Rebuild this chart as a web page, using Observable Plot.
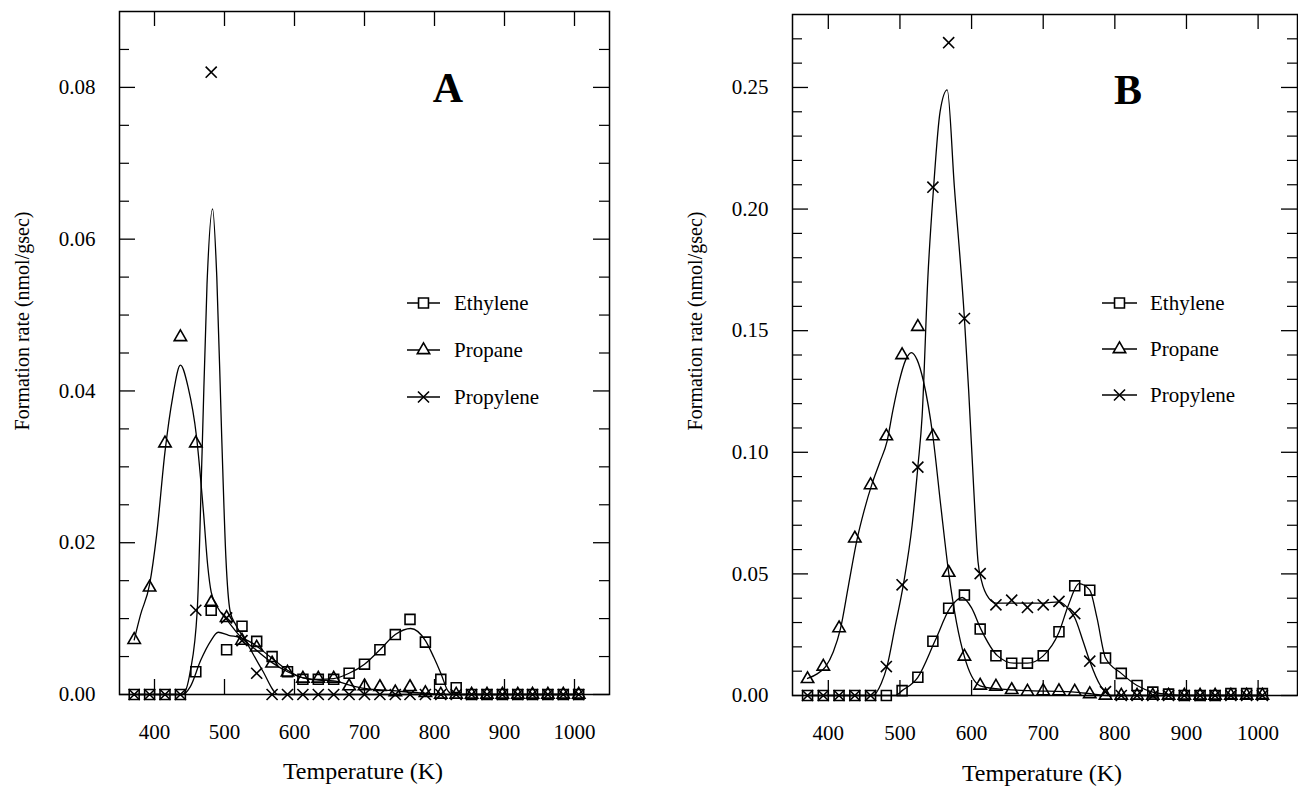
<!DOCTYPE html>
<html><head><meta charset="utf-8">
<script src="https://cdn.jsdelivr.net/npm/d3@7"></script>
<script src="https://cdn.jsdelivr.net/npm/@observablehq/plot@0.6"></script>
<style>
body{margin:0;background:#fff;overflow:hidden;}
#wrap{position:relative;width:1298px;height:786px;background:#fff;}
#wrap svg{position:absolute;top:0;}
</style></head><body><div id="wrap"></div>
<script>
// ---- data ----
const temperatures = [371,393,415,437,459,481,503,525,546,568,590,612,634,656,678,700,722,744,765,787,809,831,853,875,897,919,940,962,984,1006];
const seriesNames = ["Ethylene","Propane","Propylene"];
const xTicks = [400,500,600,700,800,900,1000];

// Panel A measured points
const A_ethylene  = [0,0,0,0,0.0030,0.0111,0.0059,0.0090,0.0070,0.0050,0.0030,0.0020,0.0020,0.0020,0.0028,0.0040,0.0059,0.0079,0.0099,0.0069,0.0020,0.0009,0,0,0,0,0,0,0,0];
const A_propane   = [0.0072,0.0141,0.0331,0.0471,0.0331,0.0121,0.0101,0.0071,0.0062,0.0041,0.0029,0.0021,0.0021,0.0021,0.0011,0.0011,0.0010,0.0003,0.0010,0.0002,0,0,0,0,0,0,0,0,0,0];
const A_propylene = [0,0,0,0,0.0111,0.0820,0.0101,0.0071,0.0028,0,0,0,0,0,0,0,0,0,0,0,0,0,0,0,0,0,0,0,0,0];

// Panel B measured points
const B_ethylene  = [0,0,0,0,0,0,0.0020,0.0075,0.0223,0.0359,0.0413,0.0273,0.0163,0.0133,0.0133,0.0163,0.0262,0.0451,0.0433,0.0154,0.0091,0.0041,0.0014,0.0006,0,0,0,0.0008,0.0008,0.0008];
const B_propane   = [0.0068,0.0119,0.0277,0.0646,0.0865,0.1066,0.1400,0.1516,0.1066,0.0505,0.0160,0.0041,0.0037,0.0023,0.0016,0.0018,0.0018,0.0016,0.0006,0,0,0,0,0,0,0,0,0,0,0];
const B_propylene = [0,0,0,0,0,0.0119,0.0455,0.0939,0.2090,0.2684,0.1550,0.0501,0.0373,0.0392,0.0362,0.0373,0.0387,0.0337,0.0141,0.0016,0,0,0,0,0,0,0,0,0,0];

// Fitted curves: [T, value]
const fitA_ethylene = [[371,0],[440,0],[451,0.001],[466,0.0045],[480,0.007],[491,0.0082],[506,0.0078],[523,0.0075],[541,0.0067],[566,0.0049],[590,0.0032],[613,0.0022],[635,0.002],[656,0.0021],[678,0.0028],[700,0.004],[722,0.0059],[744,0.0079],[766,0.0087],[787,0.0071],[799,0.0049],[809,0.0028],[819,0.0005],[826,0],[1006,0]];
const fitA_propane = [[371,0.0072],[380,0.0105],[393,0.0145],[403,0.021],[415,0.032],[426,0.0392],[437,0.0434],[448,0.0405],[460,0.034],[470,0.024],[476,0.017],[481,0.0135],[490,0.0115],[503,0.0099],[525,0.0074],[546,0.0058],[568,0.0042],[590,0.003],[612,0.0022],[634,0.0019],[656,0.0018],[680,0.0012],[700,0.0008],[740,0.0005],[780,0.0002],[820,0],[1006,0]];
const fitA_propylene = [[371,0],[440,0],[451,0.003],[461,0.011],[468,0.032],[475,0.054],[483,0.064],[489,0.055],[496,0.034],[502,0.018],[508,0.011],[516,0.0092],[530,0.0071],[554,0.0032],[577,0],[1006,0]];

const fitB_ethylene = [[371,0],[494,0],[503,0.002],[525,0.0075],[549,0.0225],[570,0.036],[587,0.0403],[600,0.036],[613,0.0273],[636,0.0164],[659,0.0133],[678,0.0133],[700,0.0163],[722,0.026],[735,0.037],[750,0.046],[765,0.0433],[775,0.032],[787,0.0154],[809,0.0091],[831,0.0041],[853,0.0014],[875,0.0005],[900,0],[1006,0]];
const fitB_propane = [[371,0.007],[385,0.009],[396,0.0118],[407,0.018],[417,0.0275],[428,0.045],[440,0.064],[450,0.076],[461,0.087],[472,0.096],[482,0.1045],[490,0.117],[498,0.128],[508,0.138],[516,0.141],[524,0.138],[533,0.129],[546,0.1066],[557,0.078],[568,0.0505],[579,0.03],[590,0.016],[600,0.008],[612,0.004],[634,0.0028],[680,0.002],[740,0.0015],[770,0.0006],[790,0],[1006,0]];
const fitB_propylene = [[371,0],[462,0],[474,0.005],[482,0.012],[493,0.028],[505,0.046],[517,0.07],[525,0.094],[531,0.115],[539,0.172],[547,0.209],[556,0.24],[566,0.249],[576,0.209],[590,0.155],[596,0.125],[603,0.085],[609,0.055],[614,0.047],[624,0.040],[634,0.038],[656,0.038],[700,0.038],[722,0.0385],[737,0.035],[744,0.032],[756,0.022],[765,0.0141],[780,0.004],[795,0],[1006,0]];

const A_yLabels = [0,0.02,0.04,0.06,0.08];
const B_yLabels = [0,0.05,0.10,0.15,0.20,0.25];

// ---- drawing ----
const FONT = "'Liberation Serif','Times New Roman',serif";
const symbolOf = {Ethylene: "square", Propane: "triangle", Propylene: "times"};
const rOf = {Ethylene: 5.6, Propane: 4.6, Propylene: 5.1};
const d3SymbolOf = {Ethylene: d3.symbolSquare, Propane: d3.symbolTriangle, Propylene: d3.symbolTimes};

function panel(cfg) {
  const {left, width, mL, mR, mT, mB, yMax, minorTicks, majorTicks, yLabels, pts, fits} = cfg;
  const height = 786;
  const fw = width - mL - mR, fh = height - mT - mB;
  const rows = [];
  seriesNames.forEach((s, k) => temperatures.forEach((t, i) => rows.push({series: s, T: t, v: pts[k][i]})));
  const fitRows = [];
  seriesNames.forEach((s, k) => fits[k].forEach(([t, v]) => fitRows.push({series: s, T: t, v})));
  const minorOnly = minorTicks.filter(v => !majorTicks.includes(v));
  const plot = Plot.plot({
    width, height, marginLeft: mL, marginRight: mR, marginTop: mT, marginBottom: mB,
    style: {fontFamily: FONT, fontSize: "21px", color: "#000", background: "transparent", overflow: "visible"},
    x: {domain: cfg.xDomain, label: null},
    y: {domain: [0, yMax], label: null},
    marks: [
      Plot.line(fitRows, {x: "T", y: "v", z: "series", curve: "monotone-x", stroke: "#000", strokeWidth: 1.3}),
      ...seriesNames.map(s => Plot.dot(rows.filter(d => d.series === s), {x: "T", y: "v", symbol: () => symbolOf[s], r: rOf[s], stroke: "#000", strokeWidth: 1.6, fill: "none"})),
      Plot.ruleX(xTicks, {x: d => d, insetTop: fh - 15, stroke: "#000", strokeWidth: 1.3}),
      Plot.ruleX(xTicks, {x: d => d, insetBottom: fh - 15, stroke: "#000", strokeWidth: 1.3}),
      Plot.ruleY(majorTicks, {y: d => d, insetRight: fw - 16, stroke: "#000", strokeWidth: 1.3}),
      Plot.ruleY(majorTicks, {y: d => d, insetLeft: fw - 16, stroke: "#000", strokeWidth: 1.3}),
      Plot.ruleY(minorOnly, {y: d => d, insetRight: fw - 10, stroke: "#000", strokeWidth: 1.2}),
      Plot.ruleY(minorOnly, {y: d => d, insetLeft: fw - 10, stroke: "#000", strokeWidth: 1.2}),
      Plot.axisX({ticks: xTicks, tickSize: 0, tickPadding: 30, tickFormat: d3.format("d"), fontSize: 21}),
      Plot.axisY({ticks: yLabels, tickSize: 0, tickPadding: 24, tickFormat: d3.format(".2f"), fontSize: 21}),
      Plot.frame({stroke: "#000", strokeWidth: 1.5})
    ]
  });
  plot.style.left = left + "px";
  const svg = d3.select(plot);
  // axis titles
  svg.append("text").attr("transform", `translate(${cfg.yTitle[0]},${cfg.yTitle[1]}) rotate(-90)`)
    .attr("text-anchor", "middle").attr("dominant-baseline", "central")
    .style("font-family", FONT).style("font-size", "20px").text("Formation rate (nmol/gsec)");
  svg.append("text").attr("x", cfg.xTitle[0]).attr("y", cfg.xTitle[1])
    .attr("text-anchor", "middle").attr("dominant-baseline", "central")
    .style("font-family", FONT).style("font-size", "24px").text("Temperature (K)");
  // panel letter
  svg.append("text").attr("x", cfg.letterPos[0]).attr("y", cfg.letterPos[1])
    .attr("text-anchor", "middle").style("font-family", FONT).style("font-weight", "bold")
    .style("font-size", "42px").text(cfg.letter);
  // legend
  const lg = cfg.legend;
  seriesNames.forEach((s, k) => {
    const y = lg.rows[k];
    svg.append("line").attr("x1", lg.x1).attr("x2", lg.x2).attr("y1", y).attr("y2", y)
      .attr("stroke", "#000").attr("stroke-width", 1.3);
    svg.append("path").attr("transform", `translate(${(lg.x1 + lg.x2) / 2},${y})`)
      .attr("d", d3.symbol(d3SymbolOf[s], Math.PI * rOf[s] * rOf[s])())
      .attr("fill", "#fff").attr("stroke", "#000").attr("stroke-width", 1.6);
    svg.append("text").attr("x", lg.tx).attr("y", y).attr("text-anchor", "start")
      .attr("dominant-baseline", "central")
      .style("font-family", FONT).style("font-size", "21px").text(s);
  });
  return plot;
}

const wrap = document.getElementById("wrap");
wrap.appendChild(panel({
  left: 0, width: 649, mL: 119, mR: 40, mT: 11, mB: 92,
  xDomain: [350, 1050], yMax: 0.09,
  minorTicks: d3.range(0, 18).map(i => +(i * 0.005).toFixed(3)),
  majorTicks: [0, 0.02, 0.04, 0.06, 0.08],
  yLabels: A_yLabels,
  pts: [A_ethylene, A_propane, A_propylene],
  fits: [fitA_ethylene, fitA_propane, fitA_propylene],
  yTitle: [22, 321], xTitle: [363, 771],
  letter: "A", letterPos: [448, 102],
  legend: {x1: 407, x2: 440, tx: 454, rows: [303, 350, 397]}
}));
wrap.appendChild(panel({
  left: 649, width: 649, mL: 143, mR: 1, mT: 14, mB: 91,
  xDomain: [350, 1055], yMax: 0.28,
  minorTicks: d3.range(0, 28).map(i => +(i * 0.01).toFixed(2)),
  majorTicks: [0, 0.05, 0.10, 0.15, 0.20, 0.25],
  yLabels: B_yLabels,
  pts: [B_ethylene, B_propane, B_propylene],
  fits: [fitB_ethylene, fitB_propane, fitB_propylene],
  yTitle: [46, 321], xTitle: [393, 773],
  letter: "B", letterPos: [479, 104],
  legend: {x1: 453, x2: 488, tx: 501, rows: [303, 349, 395]}
}));
</script></body></html>
